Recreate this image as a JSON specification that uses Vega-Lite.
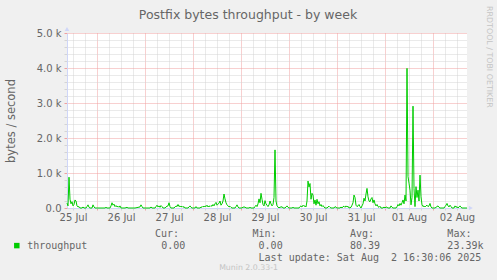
{
  "$schema": "https://vega.github.io/schema/vega-lite/v6.json",
  "width": 400,
  "height": 175,
  "autosize": {"type": "none"},
  "padding": {"left": 67, "top": 33, "right": 30, "bottom": 72},
  "background": "#F0F0F0",
  "view": {"fill": "#FFFFFF", "stroke": null},
  "title": {
    "text": "Postfix bytes throughput - by week",
    "font": "DejaVu Sans",
    "fontSize": 12.5,
    "fontWeight": "normal",
    "color": "#666666",
    "anchor": "middle",
    "dx": -19,
    "offset": -15
  },
  "datasets": {
    "series": [
      {"t":"2025-07-25T09:00","v":140},{"t":"2025-07-25T09:30","v":60},{"t":"2025-07-25T10:00","v":880},{"t":"2025-07-25T10:30","v":250},{"t":"2025-07-25T11:00","v":120},{"t":"2025-07-25T11:30","v":180},{"t":"2025-07-25T12:00","v":60},{"t":"2025-07-25T12:30","v":100},{"t":"2025-07-25T13:00","v":230},{"t":"2025-07-25T13:30","v":200},{"t":"2025-07-25T14:00","v":60},{"t":"2025-07-25T14:30","v":30},{"t":"2025-07-25T15:00","v":40},{"t":"2025-07-25T15:30","v":0},{"t":"2025-07-25T16:30","v":0},{"t":"2025-07-25T17:00","v":30},{"t":"2025-07-25T17:30","v":0},{"t":"2025-07-25T18:30","v":0},{"t":"2025-07-25T19:00","v":40},{"t":"2025-07-25T19:30","v":90},{"t":"2025-07-25T20:00","v":20},{"t":"2025-07-25T20:30","v":0},{"t":"2025-07-25T21:30","v":0},{"t":"2025-07-25T22:00","v":90},{"t":"2025-07-25T22:30","v":30},{"t":"2025-07-25T23:00","v":0},
      {"t":"2025-07-26T01:30","v":0},{"t":"2025-07-26T04:00","v":0},{"t":"2025-07-26T04:30","v":20},{"t":"2025-07-26T05:00","v":0},{"t":"2025-07-26T06:30","v":0},{"t":"2025-07-26T07:00","v":60},{"t":"2025-07-26T07:30","v":150},{"t":"2025-07-26T08:00","v":80},{"t":"2025-07-26T08:30","v":110},{"t":"2025-07-26T09:00","v":40},{"t":"2025-07-26T09:30","v":70},{"t":"2025-07-26T10:00","v":30},{"t":"2025-07-26T10:30","v":50},{"t":"2025-07-26T11:00","v":20},{"t":"2025-07-26T11:30","v":60},{"t":"2025-07-26T12:00","v":0},{"t":"2025-07-26T14:00","v":0},{"t":"2025-07-26T15:00","v":20},{"t":"2025-07-26T15:30","v":0},{"t":"2025-07-26T19:00","v":0},{"t":"2025-07-26T21:30","v":30},{"t":"2025-07-26T22:00","v":90},{"t":"2025-07-26T22:30","v":40},{"t":"2025-07-26T23:00","v":0},
      {"t":"2025-07-27T02:30","v":0},{"t":"2025-07-27T03:00","v":30},{"t":"2025-07-27T03:30","v":0},{"t":"2025-07-27T05:00","v":0},{"t":"2025-07-27T05:30","v":40},{"t":"2025-07-27T06:00","v":80},{"t":"2025-07-27T06:30","v":30},{"t":"2025-07-27T07:00","v":60},{"t":"2025-07-27T07:30","v":20},{"t":"2025-07-27T08:00","v":70},{"t":"2025-07-27T08:30","v":40},{"t":"2025-07-27T09:00","v":0},{"t":"2025-07-27T10:00","v":0},{"t":"2025-07-27T10:30","v":30},{"t":"2025-07-27T11:00","v":50},{"t":"2025-07-27T11:30","v":60},{"t":"2025-07-27T12:00","v":150},{"t":"2025-07-27T12:30","v":40},{"t":"2025-07-27T13:00","v":0},{"t":"2025-07-27T14:30","v":0},{"t":"2025-07-27T15:00","v":30},{"t":"2025-07-27T15:30","v":60},{"t":"2025-07-27T16:00","v":40},{"t":"2025-07-27T16:30","v":100},{"t":"2025-07-27T17:00","v":40},{"t":"2025-07-27T17:30","v":60},{"t":"2025-07-27T18:00","v":30},{"t":"2025-07-27T18:30","v":50},{"t":"2025-07-27T19:00","v":20},{"t":"2025-07-27T19:30","v":40},{"t":"2025-07-27T20:00","v":0},{"t":"2025-07-27T21:30","v":0},{"t":"2025-07-27T22:00","v":30},{"t":"2025-07-27T22:30","v":60},{"t":"2025-07-27T23:00","v":20},{"t":"2025-07-27T23:30","v":0},
      {"t":"2025-07-28T01:00","v":0},{"t":"2025-07-28T01:30","v":40},{"t":"2025-07-28T02:00","v":0},{"t":"2025-07-28T03:30","v":0},{"t":"2025-07-28T04:00","v":30},{"t":"2025-07-28T04:30","v":20},{"t":"2025-07-28T05:00","v":50},{"t":"2025-07-28T05:30","v":30},{"t":"2025-07-28T06:00","v":60},{"t":"2025-07-28T06:30","v":40},{"t":"2025-07-28T07:00","v":80},{"t":"2025-07-28T07:30","v":30},{"t":"2025-07-28T08:00","v":60},{"t":"2025-07-28T08:30","v":40},{"t":"2025-07-28T09:00","v":70},{"t":"2025-07-28T09:30","v":50},{"t":"2025-07-28T10:00","v":100},{"t":"2025-07-28T10:30","v":60},{"t":"2025-07-28T11:00","v":120},{"t":"2025-07-28T11:30","v":160},{"t":"2025-07-28T12:00","v":80},{"t":"2025-07-28T12:30","v":110},{"t":"2025-07-28T13:00","v":140},{"t":"2025-07-28T13:30","v":200},{"t":"2025-07-28T14:00","v":80},{"t":"2025-07-28T14:30","v":120},{"t":"2025-07-28T15:00","v":200},{"t":"2025-07-28T15:30","v":400},{"t":"2025-07-28T16:00","v":260},{"t":"2025-07-28T16:30","v":150},{"t":"2025-07-28T17:00","v":90},{"t":"2025-07-28T17:30","v":60},{"t":"2025-07-28T18:00","v":30},{"t":"2025-07-28T18:30","v":50},{"t":"2025-07-28T19:00","v":20},{"t":"2025-07-28T19:30","v":0},{"t":"2025-07-28T21:00","v":0},{"t":"2025-07-28T21:30","v":40},{"t":"2025-07-28T22:00","v":90},{"t":"2025-07-28T22:30","v":30},{"t":"2025-07-28T23:00","v":0},
      {"t":"2025-07-29T00:30","v":0},{"t":"2025-07-29T01:00","v":30},{"t":"2025-07-29T01:30","v":20},{"t":"2025-07-29T02:00","v":30},{"t":"2025-07-29T02:30","v":0},{"t":"2025-07-29T04:00","v":0},{"t":"2025-07-29T04:30","v":20},{"t":"2025-07-29T05:00","v":0},{"t":"2025-07-29T06:30","v":0},{"t":"2025-07-29T07:00","v":40},{"t":"2025-07-29T07:30","v":80},{"t":"2025-07-29T08:00","v":40},{"t":"2025-07-29T08:30","v":120},{"t":"2025-07-29T09:00","v":260},{"t":"2025-07-29T09:30","v":150},{"t":"2025-07-29T10:00","v":420},{"t":"2025-07-29T10:30","v":250},{"t":"2025-07-29T11:00","v":100},{"t":"2025-07-29T11:30","v":60},{"t":"2025-07-29T12:00","v":210},{"t":"2025-07-29T12:30","v":120},{"t":"2025-07-29T13:00","v":80},{"t":"2025-07-29T13:30","v":40},{"t":"2025-07-29T14:00","v":90},{"t":"2025-07-29T14:30","v":200},{"t":"2025-07-29T15:00","v":120},{"t":"2025-07-29T15:30","v":60},{"t":"2025-07-29T16:00","v":100},{"t":"2025-07-29T16:30","v":300},{"t":"2025-07-29T17:00","v":1660},{"t":"2025-07-29T17:30","v":200},{"t":"2025-07-29T18:00","v":60},{"t":"2025-07-29T18:30","v":30},{"t":"2025-07-29T19:00","v":0},{"t":"2025-07-29T19:30","v":30},{"t":"2025-07-29T20:00","v":20},{"t":"2025-07-29T20:30","v":40},{"t":"2025-07-29T21:00","v":0},{"t":"2025-07-29T22:00","v":0},{"t":"2025-07-29T22:30","v":30},{"t":"2025-07-29T23:00","v":60},{"t":"2025-07-29T23:30","v":20},
      {"t":"2025-07-30T00:00","v":0},{"t":"2025-07-30T01:30","v":0},{"t":"2025-07-30T02:00","v":20},{"t":"2025-07-30T02:30","v":0},{"t":"2025-07-30T05:00","v":0},{"t":"2025-07-30T05:30","v":40},{"t":"2025-07-30T06:00","v":60},{"t":"2025-07-30T06:30","v":30},{"t":"2025-07-30T07:00","v":80},{"t":"2025-07-30T07:30","v":50},{"t":"2025-07-30T08:00","v":60},{"t":"2025-07-30T08:30","v":30},{"t":"2025-07-30T09:00","v":200},{"t":"2025-07-30T09:30","v":770},{"t":"2025-07-30T10:00","v":600},{"t":"2025-07-30T10:30","v":700},{"t":"2025-07-30T11:00","v":250},{"t":"2025-07-30T11:30","v":420},{"t":"2025-07-30T12:00","v":370},{"t":"2025-07-30T12:30","v":120},{"t":"2025-07-30T13:00","v":230},{"t":"2025-07-30T13:30","v":80},{"t":"2025-07-30T14:00","v":250},{"t":"2025-07-30T14:30","v":120},{"t":"2025-07-30T15:00","v":180},{"t":"2025-07-30T15:30","v":60},{"t":"2025-07-30T16:00","v":100},{"t":"2025-07-30T16:30","v":40},{"t":"2025-07-30T17:00","v":70},{"t":"2025-07-30T17:30","v":30},{"t":"2025-07-30T18:00","v":0},{"t":"2025-07-30T19:00","v":0},{"t":"2025-07-30T19:30","v":30},{"t":"2025-07-30T20:00","v":50},{"t":"2025-07-30T20:30","v":20},{"t":"2025-07-30T21:00","v":0},{"t":"2025-07-30T22:30","v":0},{"t":"2025-07-30T23:00","v":40},{"t":"2025-07-30T23:30","v":20},
      {"t":"2025-07-31T00:00","v":0},{"t":"2025-07-31T01:30","v":0},{"t":"2025-07-31T02:00","v":30},{"t":"2025-07-31T02:30","v":0},{"t":"2025-07-31T03:00","v":40},{"t":"2025-07-31T03:30","v":50},{"t":"2025-07-31T04:00","v":20},{"t":"2025-07-31T04:30","v":60},{"t":"2025-07-31T05:00","v":30},{"t":"2025-07-31T05:30","v":50},{"t":"2025-07-31T06:00","v":0},{"t":"2025-07-31T07:00","v":20},{"t":"2025-07-31T07:30","v":80},{"t":"2025-07-31T08:00","v":150},{"t":"2025-07-31T08:30","v":370},{"t":"2025-07-31T09:00","v":300},{"t":"2025-07-31T09:30","v":80},{"t":"2025-07-31T10:00","v":40},{"t":"2025-07-31T10:30","v":60},{"t":"2025-07-31T11:00","v":100},{"t":"2025-07-31T11:30","v":40},{"t":"2025-07-31T12:00","v":0},{"t":"2025-07-31T12:30","v":60},{"t":"2025-07-31T13:00","v":120},{"t":"2025-07-31T13:30","v":280},{"t":"2025-07-31T14:00","v":200},{"t":"2025-07-31T14:30","v":400},{"t":"2025-07-31T15:00","v":560},{"t":"2025-07-31T15:30","v":320},{"t":"2025-07-31T16:00","v":200},{"t":"2025-07-31T16:30","v":180},{"t":"2025-07-31T17:00","v":260},{"t":"2025-07-31T17:30","v":300},{"t":"2025-07-31T18:00","v":150},{"t":"2025-07-31T18:30","v":230},{"t":"2025-07-31T19:00","v":120},{"t":"2025-07-31T19:30","v":60},{"t":"2025-07-31T20:00","v":100},{"t":"2025-07-31T20:30","v":40},{"t":"2025-07-31T21:00","v":20},{"t":"2025-07-31T21:30","v":50},{"t":"2025-07-31T22:00","v":0},{"t":"2025-07-31T23:00","v":0},{"t":"2025-07-31T23:30","v":30},
      {"t":"2025-08-01T00:00","v":0},{"t":"2025-08-01T00:30","v":30},{"t":"2025-08-01T01:00","v":20},{"t":"2025-08-01T01:30","v":0},{"t":"2025-08-01T02:30","v":0},{"t":"2025-08-01T03:00","v":60},{"t":"2025-08-01T03:30","v":20},{"t":"2025-08-01T04:00","v":0},{"t":"2025-08-01T05:30","v":0},{"t":"2025-08-01T06:00","v":40},{"t":"2025-08-01T06:30","v":100},{"t":"2025-08-01T07:00","v":60},{"t":"2025-08-01T07:30","v":130},{"t":"2025-08-01T08:00","v":80},{"t":"2025-08-01T08:30","v":150},{"t":"2025-08-01T09:00","v":230},{"t":"2025-08-01T09:30","v":120},{"t":"2025-08-01T10:00","v":370},{"t":"2025-08-01T10:30","v":200},{"t":"2025-08-01T11:00","v":3990},{"t":"2025-08-01T11:30","v":900},{"t":"2025-08-01T12:00","v":710},{"t":"2025-08-01T12:30","v":510},{"t":"2025-08-01T13:00","v":90},{"t":"2025-08-01T13:30","v":300},{"t":"2025-08-01T14:00","v":2910},{"t":"2025-08-01T14:30","v":560},{"t":"2025-08-01T15:00","v":40},{"t":"2025-08-01T15:30","v":610},{"t":"2025-08-01T16:00","v":300},{"t":"2025-08-01T16:30","v":510},{"t":"2025-08-01T17:00","v":200},{"t":"2025-08-01T17:30","v":940},{"t":"2025-08-01T18:00","v":320},{"t":"2025-08-01T18:30","v":90},{"t":"2025-08-01T19:00","v":40},{"t":"2025-08-01T19:30","v":60},{"t":"2025-08-01T20:00","v":30},{"t":"2025-08-01T20:30","v":60},{"t":"2025-08-01T21:00","v":80},{"t":"2025-08-01T21:30","v":40},{"t":"2025-08-01T22:00","v":60},{"t":"2025-08-01T22:30","v":130},{"t":"2025-08-01T23:00","v":30},{"t":"2025-08-01T23:30","v":0},
      {"t":"2025-08-02T01:00","v":0},{"t":"2025-08-02T01:30","v":20},{"t":"2025-08-02T02:00","v":40},{"t":"2025-08-02T02:30","v":60},{"t":"2025-08-02T03:00","v":20},{"t":"2025-08-02T03:30","v":0},{"t":"2025-08-02T05:30","v":0},{"t":"2025-08-02T06:00","v":40},{"t":"2025-08-02T06:30","v":80},{"t":"2025-08-02T07:00","v":130},{"t":"2025-08-02T07:30","v":60},{"t":"2025-08-02T08:00","v":30},{"t":"2025-08-02T08:30","v":80},{"t":"2025-08-02T09:00","v":40},{"t":"2025-08-02T09:30","v":0},{"t":"2025-08-02T10:30","v":0},{"t":"2025-08-02T11:00","v":60},{"t":"2025-08-02T11:30","v":20},{"t":"2025-08-02T12:00","v":40},{"t":"2025-08-02T12:30","v":0},{"t":"2025-08-02T13:00","v":30},{"t":"2025-08-02T13:30","v":60},{"t":"2025-08-02T14:00","v":20},{"t":"2025-08-02T14:30","v":0},{"t":"2025-08-02T17:00","v":0}
    ],
    "legendText": [
      {"c": 4, "r": 1, "txt": "throughput"},
      {"c": 25, "r": 0, "txt": "Cur:"},
      {"c": 26, "r": 1, "txt": "0.00"},
      {"c": 41, "r": 0, "txt": "Min:"},
      {"c": 42, "r": 1, "txt": "0.00"},
      {"c": 57, "r": 0, "txt": "Avg:"},
      {"c": 57, "r": 1, "txt": "80.39"},
      {"c": 73, "r": 0, "txt": "Max:"},
      {"c": 73, "r": 1, "txt": "23.39k"},
      {"c": 42, "r": 2, "txt": "Last update: Sat Aug\u00a0 2 16:30:06 2025"}
    ],
    "swatch": [{"c": 2.3, "r": 1}],
    "arrows": [
      {"c": 10.54, "r": -17.2, "shape": "triangle-up"},
      {"c": 76.85, "r": -2.16, "shape": "triangle-right"}
    ],
    "credit": [{"c": 40.35, "r": 2.88, "txt": "Munin 2.0.33-1"}],
    "watermark": [{"c": 79.8, "r": -19.13, "txt": "RRDTOOL / TOBI OETIKER"}]
  },
  "layer": [
    {
      "data": {"name": "series"},
      "mark": {"type": "line", "color": "#00CC00", "strokeWidth": 1, "interpolate": "linear"},
      "encoding": {
        "x": {
          "field": "t",
          "type": "temporal",
          "scale": {
            "domain": [
              {"year": 2025, "month": 7, "date": 25, "hours": 9},
              {"year": 2025, "month": 8, "date": 2, "hours": 17}
            ],
            "nice": false
          },
          "axis": {
            "title": null,
            "tickCount": 33,
            "labelExpr": "hours(datum.value) === 12 ? timeFormat(datum.value, '%d %b') : ''",
            "labelFlush": false,
            "labelOverlap": false,
            "labelFont": "DejaVu Sans",
            "labelFontSize": 10,
            "labelColor": "#666666",
            "labelPadding": 2,
            "tickSize": 2,
            "tickColor": {"condition": {"test": "hours(datum.value) === 0", "value": "#F0A0A0"}, "value": "#D4D4D4"},
            "grid": true,
            "gridDash": [1, 1],
            "gridColor": {"condition": {"test": "hours(datum.value) === 0", "value": "#F0A0A0"}, "value": "#D4D4D4"},
            "domainColor": "#CFD6F8"
          }
        },
        "y": {
          "field": "v",
          "type": "quantitative",
          "scale": {"domain": [0, 5000], "nice": false},
          "axis": {
            "title": "bytes / second",
            "titleFont": "DejaVu Sans",
            "titleFontSize": 11.5,
            "titleFontWeight": "normal",
            "titleColor": "#666666",
            "titlePadding": 20,
            "values": [0, 200, 400, 600, 800, 1000, 1200, 1400, 1600, 1800, 2000, 2200, 2400, 2600, 2800, 3000, 3200, 3400, 3600, 3800, 4000, 4200, 4400, 4600, 4800, 5000],
            "labelExpr": "datum.value % 1000 === 0 ? (datum.value === 0 ? '0.0' : format(datum.value / 1000, '.1f') + ' k') : ''",
            "labelOverlap": false,
            "labelFont": "DejaVu Sans",
            "labelFontSize": 10,
            "labelColor": "#666666",
            "labelPadding": 3,
            "tickSize": 3,
            "tickColor": {"condition": {"test": "datum.value % 1000 === 0", "value": "#F0A0A0"}, "value": "#D4D4D4"},
            "grid": true,
            "gridDash": [1, 1],
            "gridColor": {"condition": {"test": "datum.value % 1000 === 0", "value": "#F0A0A0"}, "value": "#D4D4D4"},
            "domainColor": "#CFD6F8"
          }
        }
      }
    },
    {
      "encoding": {
        "x": {"field": "c", "type": "quantitative", "scale": {"domain": [10.542, 76.224], "nice": false, "zero": false}, "axis": null},
        "y": {"field": "r", "type": "quantitative", "scale": {"domain": [-16.866, -2.16], "nice": false, "zero": false, "reverse": true}, "axis": null}
      },
      "layer": [
        {
          "data": {"name": "swatch"},
          "mark": {"type": "point", "shape": "square", "filled": true, "size": 30, "color": "#00CC00", "opacity": 1}
        },
        {
          "data": {"name": "arrows"},
          "mark": {"type": "point", "filled": true, "size": 22, "color": "#CFD6F8", "opacity": 1},
          "encoding": {"shape": {"field": "shape", "type": "nominal", "scale": null}}
        },
        {
          "data": {"name": "legendText"},
          "mark": {"type": "text", "font": "DejaVu Sans Mono", "fontSize": 10, "color": "#666666", "align": "left", "baseline": "middle"},
          "encoding": {"text": {"field": "txt"}}
        },
        {
          "data": {"name": "credit"},
          "mark": {"type": "text", "font": "DejaVu Sans", "fontSize": 7.8, "color": "#C4C4C4", "align": "center", "baseline": "middle"},
          "encoding": {"text": {"field": "txt"}}
        },
        {
          "data": {"name": "watermark"},
          "mark": {"type": "text", "font": "DejaVu Sans", "fontSize": 7.9, "color": "#C4C4C4", "align": "left", "baseline": "middle", "angle": 90},
          "encoding": {"text": {"field": "txt"}}
        }
      ]
    }
  ],
  "resolve": {
    "scale": {"x": "independent", "y": "independent"},
    "axis": {"x": "independent", "y": "independent"}
  }
}
